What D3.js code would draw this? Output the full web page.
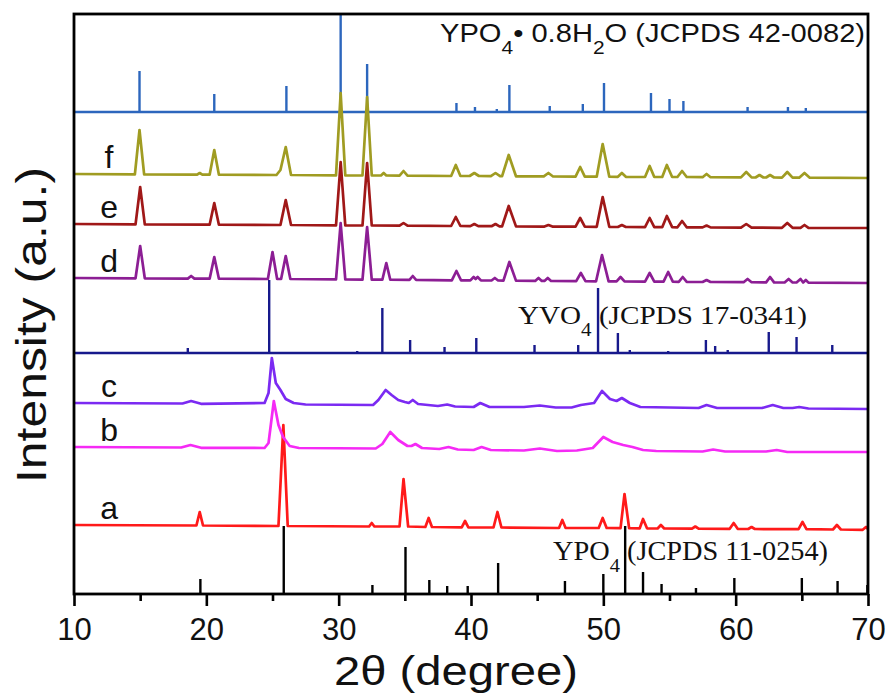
<!DOCTYPE html>
<html><head><meta charset="utf-8">
<script src="https://cdn.jsdelivr.net/npm/d3@7"></script>
<style>body{margin:0;background:#fff}svg{display:block}</style>
</head><body>
<svg id="chart" width="891" height="700"></svg>
<script>
// ---------- data ----------
const thetaRange = [10, 70];
const majorTicks = [10, 20, 30, 40, 50, 60, 70];
const minorTicks = [15, 25, 35, 45, 55, 65];

// sample patterns: [2θ, intensity above the pattern's own offset]
const sampleNames = ["a", "b", "c", "d", "e", "f"];
const sampleOffsets = [69, 147, 191, 316, 370, 420];

const patternA = [[10,0],[19.25,-0.5],[19.5,13],[19.75,-0.5],[25.45,-1],[25.82,100],[26.15,-1],
  [32.3,-1.5],[32.5,2],[32.7,-1.5],[34.6,-1.5],[34.9,46],[35.25,-1.5],[36.55,-2],[36.8,7],[37.05,-2],
  [39.3,-2.3],[39.55,4],[39.8,-2.3],[41.7,-2.5],[42.0,13],[42.3,-2.5],[46.65,-3],[46.9,5],[47.15,-3],
  [49.65,-3],[49.95,7],[50.25,-3],[51.3,-3.2],[51.6,31],[51.95,-3.2],[52.75,-3.3],[53.0,6],[53.3,-3.3],
  [54.1,-3.5],[54.35,0],[54.6,-3.5],[56.7,-3.6],[56.95,-1.5],[57.2,-3.6],[59.55,-3.8],[59.85,2],[60.15,-3.8],
  [60.95,-4],[61.2,-2],[61.45,-4],[64.75,-4.2],[65.05,3],[65.35,-4.2],[67.35,-4.5],[67.65,0],[67.95,-4.5],
  [69.6,-4.8],[69.85,-2],[70,-4]];

const patternB = [[10,0],[18.1,-0.5],[18.8,2],[19.6,-0.8],[24.4,-1],[24.7,4],[25.1,46],[25.45,22],[25.8,10],
  [26.3,1],[27.0,-1],[32.8,-1.5],[33.3,3],[33.9,15],[34.5,7],[35.2,1],[35.5,1],[35.8,3],[36.3,-1],
  [37.6,-2],[38.3,0],[39.0,-2.5],[40.2,-3],[40.8,0],[41.5,-3],[44.0,-3.5],[45.2,-1.5],[46.5,-4],
  [48.0,-3.5],[49.2,-1],[50.0,10],[50.7,5],[51.5,2],[52.2,0],[53.0,-3],[54.0,-4],[57.5,-4.5],[58.3,-2.5],
  [59.2,-4.5],[62.3,-4.5],[63.1,-3],[63.9,-5],[70,-5]];

const patternC = [[10,0],[18.2,-0.5],[18.85,2],[19.6,-0.8],[24.4,0],[24.7,10],[24.95,45],[25.25,20],[25.6,13],
  [26.0,4],[26.6,0],[27.5,-1.5],[32.6,-2],[33.0,3],[33.55,13],[34.0,8],[34.5,3],[35.0,1],[35.3,0],[35.6,3],
  [36.0,-1],[37.5,-3],[38.2,-1.5],[38.8,-3.5],[40.2,-4],[40.7,0],[41.4,-4],[44.0,-4],[45.2,-2.5],[46.4,-4.5],
  [47.6,-4.5],[48.3,-2],[49.3,0],[49.9,12],[50.5,4],[51.0,2],[51.4,5],[52.0,0],[52.8,-4],[57.2,-5],[57.8,-2],
  [58.6,-5],[62.0,-5],[62.8,-2],[63.6,-5],[64.3,-5],[64.8,-4],[65.5,-5.5],[70,-6]];

const patternD = [[10,0],[14.65,-0.3],[15.0,32],[15.35,-0.3],[18.6,-0.6],[18.85,2],[19.1,-0.6],
  [20.25,-0.7],[20.6,21],[20.95,-0.7],[24.65,-1],[25.0,26],[25.35,-1],[25.65,-1],[26.0,22],[26.35,-1],
  [29.8,-1.4],[30.15,55],[30.5,-1.4],[31.8,-1.6],[32.15,51],[32.5,-1.6],[33.3,-1.7],[33.6,15],[33.9,-1.7],
  [35.35,-1.9],[35.6,2],[35.85,-1.9],[38.55,-2.3],[38.9,7],[39.25,-2.3],[39.95,-2.4],[40.2,1],[40.35,-1],[40.5,1],[40.75,-2.4],
  [41.55,-2.5],[41.8,0],[42.05,-2.5],[42.45,-2.6],[42.9,16],[43.4,-2.6],[44.85,-2.9],[45.1,0],[45.35,-2.9],
  [45.55,-2.9],[45.8,0],[46.05,-3],[47.95,-3.1],[48.3,5],[48.65,-3.1],[49.45,-3.3],[49.9,23],[50.4,-3.3],
  [51.0,-3.4],[51.3,1],[51.6,-3.4],[53.15,-3.6],[53.5,5],[53.85,-3.6],[54.55,-3.7],[54.9,6],[55.25,-3.7],
  [55.7,-3.8],[56.0,1],[56.3,-3.8],[57.5,-4],[57.8,-2],[58.1,-4],[60.6,-4.2],[60.9,-1],[61.2,-4.2],
  [62.3,-4.4],[62.6,1],[62.9,-4.4],[63.7,-4.5],[64.0,-1],[64.3,-4.5],[64.6,-4.5],[64.9,-1],[65.1,-4.5],[65.3,-2],[65.5,-4.6],[70,-5]];

const patternE = [[10,0],[14.65,-0.3],[15.0,37],[15.35,-0.3],[20.25,-0.7],[20.6,21],[20.95,-0.7],
  [25.6,-1],[26.0,24],[26.4,-1],[29.8,-1.3],[30.15,62],[30.5,-1.3],[31.8,-1.5],[32.15,61],[32.5,-1.5],
  [34.6,-1.7],[34.9,1],[35.2,-1.7],[38.5,-2],[38.85,7],[39.2,-2],[39.95,-2.1],[40.25,0],[40.55,-2.1],
  [41.55,-2.2],[41.85,0],[42.15,-2.3],[42.35,-2.3],[42.85,18],[43.4,-2.4],[45.55,-2.6],[45.85,-1],[46.15,-2.6],
  [47.9,-2.7],[48.25,6],[48.6,-2.7],[49.5,-2.8],[49.95,27],[50.45,-2.8],[51.1,-3],[51.4,-1],[51.7,-3],
  [53.15,-3.1],[53.5,6],[53.85,-3.1],[54.45,-3.2],[54.8,8],[55.2,-3.2],[55.6,-3.3],[55.95,3],[56.3,-3.3],
  [57.5,-3.4],[57.8,-1.5],[58.1,-3.4],[60.4,-3.6],[60.8,0],[61.2,-3.6],[63.5,-3.8],[63.9,1],[64.3,-3.8],
  [64.9,-3.8],[65.2,-1],[65.5,-3.9],[70,-4]];

const patternF = [[10,0],[14.6,-0.3],[14.95,44],[15.3,-0.3],[19.3,-0.6],[19.5,1],[19.7,-0.6],
  [20.25,-0.7],[20.6,24],[20.95,-0.7],[25.3,-1],[25.6,4],[26.0,27],[26.4,-1],[29.8,-1.3],[30.15,81],[30.5,-1.3],
  [31.8,-1.5],[32.15,77],[32.5,-1.5],[33.2,-1.5],[33.4,1],[33.6,-1.5],[34.6,-1.7],[34.9,3],[35.2,-1.7],
  [38.5,-2],[38.85,9],[39.2,-2],[39.9,-2],[40.25,1],[40.6,-2],[41.5,-2.1],[41.85,1],[42.2,-2.2],
  [42.35,-2.2],[42.85,19],[43.4,-2.3],[45.5,-2.4],[45.85,1],[46.2,-2.5],[47.9,-2.6],[48.25,7],[48.6,-2.6],
  [49.5,-2.7],[49.95,30],[50.45,-2.7],[51.1,-2.8],[51.4,1],[51.7,-2.8],[53.15,-3],[53.5,8],[53.85,-3],
  [54.45,-3],[54.8,9],[55.2,-3],[55.6,-3],[55.95,3],[56.3,-3],[57.5,-3.2],[57.8,0],[58.1,-3.2],
  [60.4,-3.4],[60.8,2],[61.2,-3.4],[61.5,-3.5],[61.8,-1],[62.1,-3.5],[62.3,-3.5],[62.6,-1],[62.9,-3.5],
  [63.5,-3.6],[63.9,2],[64.3,-3.6],[64.8,-3.7],[65.2,1],[65.6,-3.7],[70,-4]];

const samplePatterns = [patternA, patternB, patternC, patternD, patternE, patternF];
const sampleColors = ["#ff1a1a", "#f52af5", "#7b2af2", "#8c1e94", "#a01818", "#a09c22"];

// standard cards: [2θ, relative stick height]
const cardYPO4 = [[19.55,15],[25.85,68],[32.55,9],[35.05,47],[36.85,14],[38.2,8],[39.75,8],[42.05,31],
  [47.1,13],[50.0,20],[51.65,68],[53.0,22],[54.4,10],[57.0,6],[59.9,16],[65.0,16],[67.7,13],[69.95,9]];
const cardYVO4 = [[18.6,5],[24.75,73],[31.4,2],[33.3,45],[35.4,13],[38.0,6],[40.4,15],[44.8,8],[48.1,8],
  [49.6,65],[51.1,20],[52.0,3],[54.9,2],[57.75,13],[58.45,7],[59.4,3],[62.5,21],[64.6,16],[67.3,8]];
const cardHydrate = [[14.95,41],[20.6,18],[26.05,26],[30.15,98],[32.15,48],[38.9,9],[40.3,5],[41.95,3],
  [42.9,27],[45.95,6],[48.45,8],[50.05,29],[53.6,19],[55.0,13],[56.05,11],[60.9,5],[63.95,5],[65.3,4]];
const cardOffsets = [0, 241, 482];
const cardColors = ["#000000", "#17198c", "#2c66bd"];

// ---------- drawing ----------
const plot = {left: 74, right: 868, top: 14, bottom: 594};
const svg = d3.select("#chart");

const x = d3.scaleLinear().domain(thetaRange).range([plot.left, plot.right]);
const y = d3.scaleLinear().domain([0, 580]).range([plot.bottom, plot.top]);

const g = svg.append("g");

// standard stick patterns
const cards = [cardYPO4, cardYVO4, cardHydrate];
cards.forEach((card, i) => {
  const base = cardOffsets[i];
  const cg = g.append("g").attr("stroke", cardColors[i]).attr("stroke-width", 2.4).attr("fill", "none");
  if (i > 0) {
    cg.append("line")
      .attr("x1", x(thetaRange[0])).attr("x2", x(thetaRange[1]))
      .attr("y1", y(base)).attr("y2", y(base));
  }
  cg.selectAll("line.stick").data(card).join("line").attr("class", "stick")
    .attr("x1", d => x(d[0])).attr("x2", d => x(d[0]))
    .attr("y1", y(base)).attr("y2", d => y(base + d[1]));
});

// sample patterns
samplePatterns.forEach((p, i) => {
  const off = sampleOffsets[i];
  g.append("path")
    .attr("d", d3.line().x(d => x(d[0])).y(d => y(off + d[1]))(p))
    .attr("fill", "none")
    .attr("stroke", sampleColors[i])
    .attr("stroke-width", 2.7)
    .attr("stroke-linejoin", "round");
  g.append("text")
    .attr("x", x(12.65)).attr("y", y(off) - 6)
    .attr("text-anchor", "middle")
    .attr("font-family", "Liberation Sans, Arial, sans-serif")
    .attr("font-size", 32)
    .attr("fill", "#111")
    .text(sampleNames[i]);
});

// card captions
function caption(tx, ty, family, size, parts, len) {
  const t = g.append("text").attr("x", tx).attr("y", ty)
    .attr("font-family", family).attr("font-size", size).attr("fill", "#111");
  parts.forEach(pt => {
    const s = t.append("tspan").text(pt.t);
    if (pt.sub) s.attr("font-size", size * 0.72).attr("dy", size * 0.45);
    if (pt.up) s.attr("dy", -size * 0.45);
  });
  if (len) t.attr("textLength", len).attr("lengthAdjust", "spacingAndGlyphs");
  return t;
}
caption(x(37.66), y(552), "Liberation Sans, Arial, sans-serif", 26,
  [{t: "YPO"}, {t: "4", sub: true}, {t: "\u2022 0.8H", up: true}, {t: "2", sub: true}, {t: "O (JCPDS 42-0082)", up: true}], 425);
caption(x(43.55), y(270), "Liberation Serif, Times New Roman, serif", 26,
  [{t: "YVO"}, {t: "4", sub: true}, {t: " (JCPDS 17-0341)", up: true}], 289);
caption(x(46.2), y(34), "Liberation Serif, Times New Roman, serif", 27,
  [{t: "YPO"}, {t: "4", sub: true}, {t: " (JCPDS 11-0254)", up: true}], 275);

// frame
svg.append("rect")
  .attr("x", plot.left).attr("y", plot.top)
  .attr("width", plot.right - plot.left).attr("height", plot.bottom - plot.top)
  .attr("fill", "none").attr("stroke", "#000").attr("stroke-width", 2.8);

// x axis
const axisG = svg.append("g").attr("transform", `translate(0,${plot.bottom})`);
axisG.call(d3.axisBottom(x).tickValues(majorTicks).tickSize(12).tickPadding(12).tickFormat(d3.format("d")));
axisG.append("g").call(d3.axisBottom(x).tickValues(minorTicks).tickSize(7).tickFormat(""))
  .select(".domain").remove();
axisG.select(".domain").remove();
axisG.selectAll(".tick line").attr("stroke", "#000").attr("stroke-width", 2.6);
axisG.selectAll(".tick text")
  .attr("font-family", "Liberation Sans, Arial, sans-serif")
  .attr("font-size", 31).attr("fill", "#111");

// axis titles
svg.append("text")
  .attr("x", 456).attr("y", 685)
  .attr("text-anchor", "middle")
  .attr("font-family", "Liberation Sans, Arial, sans-serif")
  .attr("font-size", 40).attr("fill", "#111")
  .attr("textLength", 244).attr("lengthAdjust", "spacingAndGlyphs")
  .text("2\u03b8 (degree)");
svg.append("text")
  .attr("transform", "translate(46,325) rotate(-90)")
  .attr("text-anchor", "middle")
  .attr("font-family", "Liberation Sans, Arial, sans-serif")
  .attr("font-size", 42).attr("fill", "#111")
  .attr("textLength", 316).attr("lengthAdjust", "spacingAndGlyphs")
  .text("Intensity (a.u.)");
</script>
</body></html>
